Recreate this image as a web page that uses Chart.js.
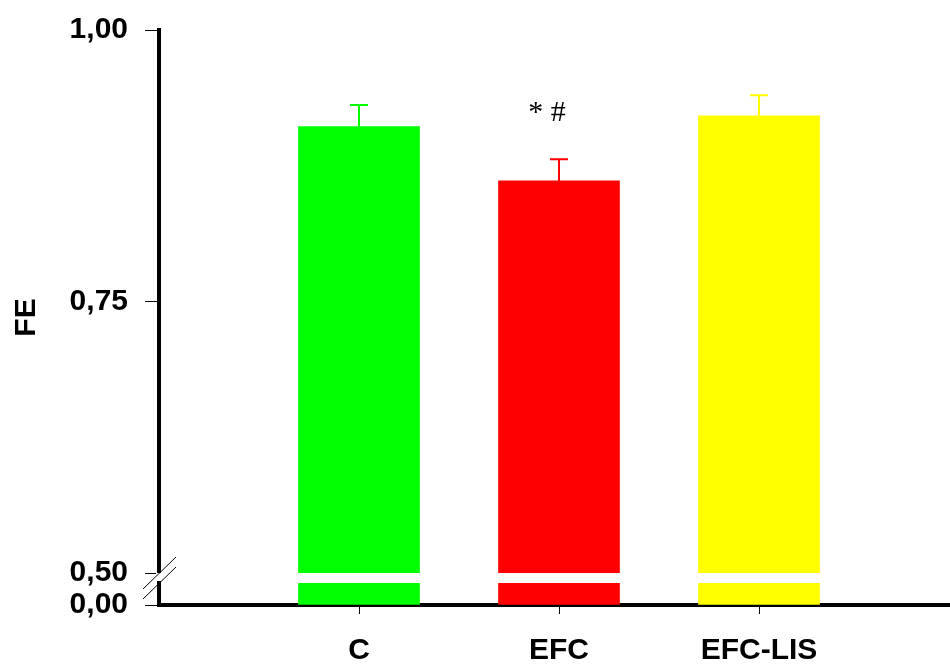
<!DOCTYPE html>
<html>
<head>
<meta charset="utf-8">
<script src="https://cdn.jsdelivr.net/npm/chart.js@4/dist/chart.umd.min.js"></script>
<style>
  body { margin: 0; background: #fff; }
  #wrap { width: 950px; height: 664px; position: relative; }
</style>
</head>
<body>
<div id="wrap"><canvas id="feChart"></canvas></div>
<script>
const categories = ["C", "EFC", "EFC-LIS"];
const xPositions = [1, 2, 3];
const feMean = [0.911, 0.861, 0.921];
const feErr = [0.020, 0.020, 0.019];
const barColors = ["#00ff00", "#ff0000", "#ffff00"];

const yTickValues = [0, 0.5, 0.75, 1.0];
const yTickLabels = ["0,00", "0,50", "0,75", "1,00"];
const annotationText = "* #";

// broken axis: 0..0.5 squeezed, 0.5..1 stretched
const BREAK_AT = 0.5;
const LOW_UNITS = 64;
const HIGH_UNITS = 1086;

function toAxis(v) {
  if (v <= BREAK_AT) return v * LOW_UNITS;
  return BREAK_AT * LOW_UNITS + (v - BREAK_AT) * HIGH_UNITS;
}

const labelFont = { family: "Arial, 'Liberation Sans', sans-serif", size: 30, weight: "bold" };

const extrasPlugin = {
  id: "extras",
  afterDraw(chart) {
    const ctx = chart.ctx;
    const xs = chart.scales.x;
    const ys = chart.scales.y;
    const meta = chart.getDatasetMeta(0);

    ctx.save();

    // error bars (upper only)
    xPositions.forEach((xv, i) => {
      const px = xs.getPixelForValue(xv);
      const top = ys.getPixelForValue(toAxis(feMean[i]));
      const cap = ys.getPixelForValue(toAxis(feMean[i] + feErr[i]));
      ctx.strokeStyle = barColors[i];
      ctx.lineWidth = 2;
      ctx.beginPath();
      ctx.moveTo(px, top);
      ctx.lineTo(px, cap);
      ctx.moveTo(px - 9, cap);
      ctx.lineTo(px + 9, cap);
      ctx.stroke();
    });

    // white gap through the bars at the break
    const breakY = ys.getPixelForValue(toAxis(BREAK_AT));
    ctx.fillStyle = "#fff";
    meta.data.forEach((bar) => {
      ctx.fillRect(bar.x - bar.width / 2 - 1, breakY, bar.width + 2, 10);
    });

    // axis break marks
    const axisX = chart.chartArea.left;
    ctx.fillRect(axisX - 3, breakY, 6, 8);
    ctx.strokeStyle = "#000";
    ctx.lineWidth = 1;
    [breakY, breakY + 10].forEach((cy) => {
      ctx.beginPath();
      ctx.moveTo(axisX - 16, cy + 16);
      ctx.lineTo(axisX + 17, cy - 16);
      ctx.stroke();
    });

    // significance marks above EFC
    ctx.fillStyle = "#000";
    ctx.font = "30px 'Liberation Serif', 'Times New Roman', serif";
    ctx.textAlign = "center";
    ctx.textBaseline = "alphabetic";
    const efcX = xs.getPixelForValue(xPositions[1]);
    ctx.fillText(annotationText, efcX - 12, 121);

    ctx.restore();
  }
};

function initChart() {
  const ctx = document.getElementById("feChart");

  new Chart(ctx, {
    type: "bar",
    data: {
      datasets: [
        {
          data: xPositions.map((x, i) => ({ x: x, y: toAxis(feMean[i]) })),
          backgroundColor: barColors,
          borderWidth: 0,
          barThickness: 121
        }
      ]
    },
    options: {
      responsive: true,
      maintainAspectRatio: false,
      animation: false,
      layout: { padding: { top: 30, left: 0, right: 0, bottom: 0 } },
      plugins: {
        legend: { display: false },
        tooltip: { enabled: false }
      },
      scales: {
        x: {
          type: "linear",
          min: 0,
          max: 3.955,
          offset: false,
          z: 1,
          afterFit(scale) { scale.height = 59; },
          afterBuildTicks(scale) {
            scale.ticks = xPositions.map((v) => ({ value: v }));
          },
          border: { display: true, color: "#000", width: 4 },
          grid: {
            offset: false,
            drawOnChartArea: false,
            drawTicks: true,
            tickLength: 9,
            tickColor: "#000",
            tickWidth: 1
          },
          ticks: {
            autoSkip: false,
            maxRotation: 0,
            padding: 19,
            color: "#000",
            font: labelFont,
            callback: (value, index) => categories[index]
          }
        },
        y: {
          type: "linear",
          min: 0,
          max: toAxis(1.0),
          z: 1,
          afterFit(scale) {
            scale.width = 159;
            scale.paddingTop = 0;
            scale.paddingBottom = 0;
          },
          afterBuildTicks(scale) {
            scale.ticks = yTickValues.map((v) => ({ value: toAxis(v) }));
          },
          border: { display: true, color: "#000", width: 4 },
          grid: {
            drawOnChartArea: false,
            drawTicks: true,
            tickLength: 14,
            tickColor: "#000",
            tickWidth: 1
          },
          ticks: {
            autoSkip: false,
            padding: 17,
            color: "#000",
            font: labelFont,
            callback: (value, index) => yTickLabels[index]
          },
          title: {
            display: true,
            text: "FE",
            color: "#000",
            font: labelFont,
            padding: { top: 9, bottom: 0 }
          }
        }
      }
    },
    plugins: [extrasPlugin]
  });
}

document.addEventListener("DOMContentLoaded", initChart);
</script>
</body>
</html>
